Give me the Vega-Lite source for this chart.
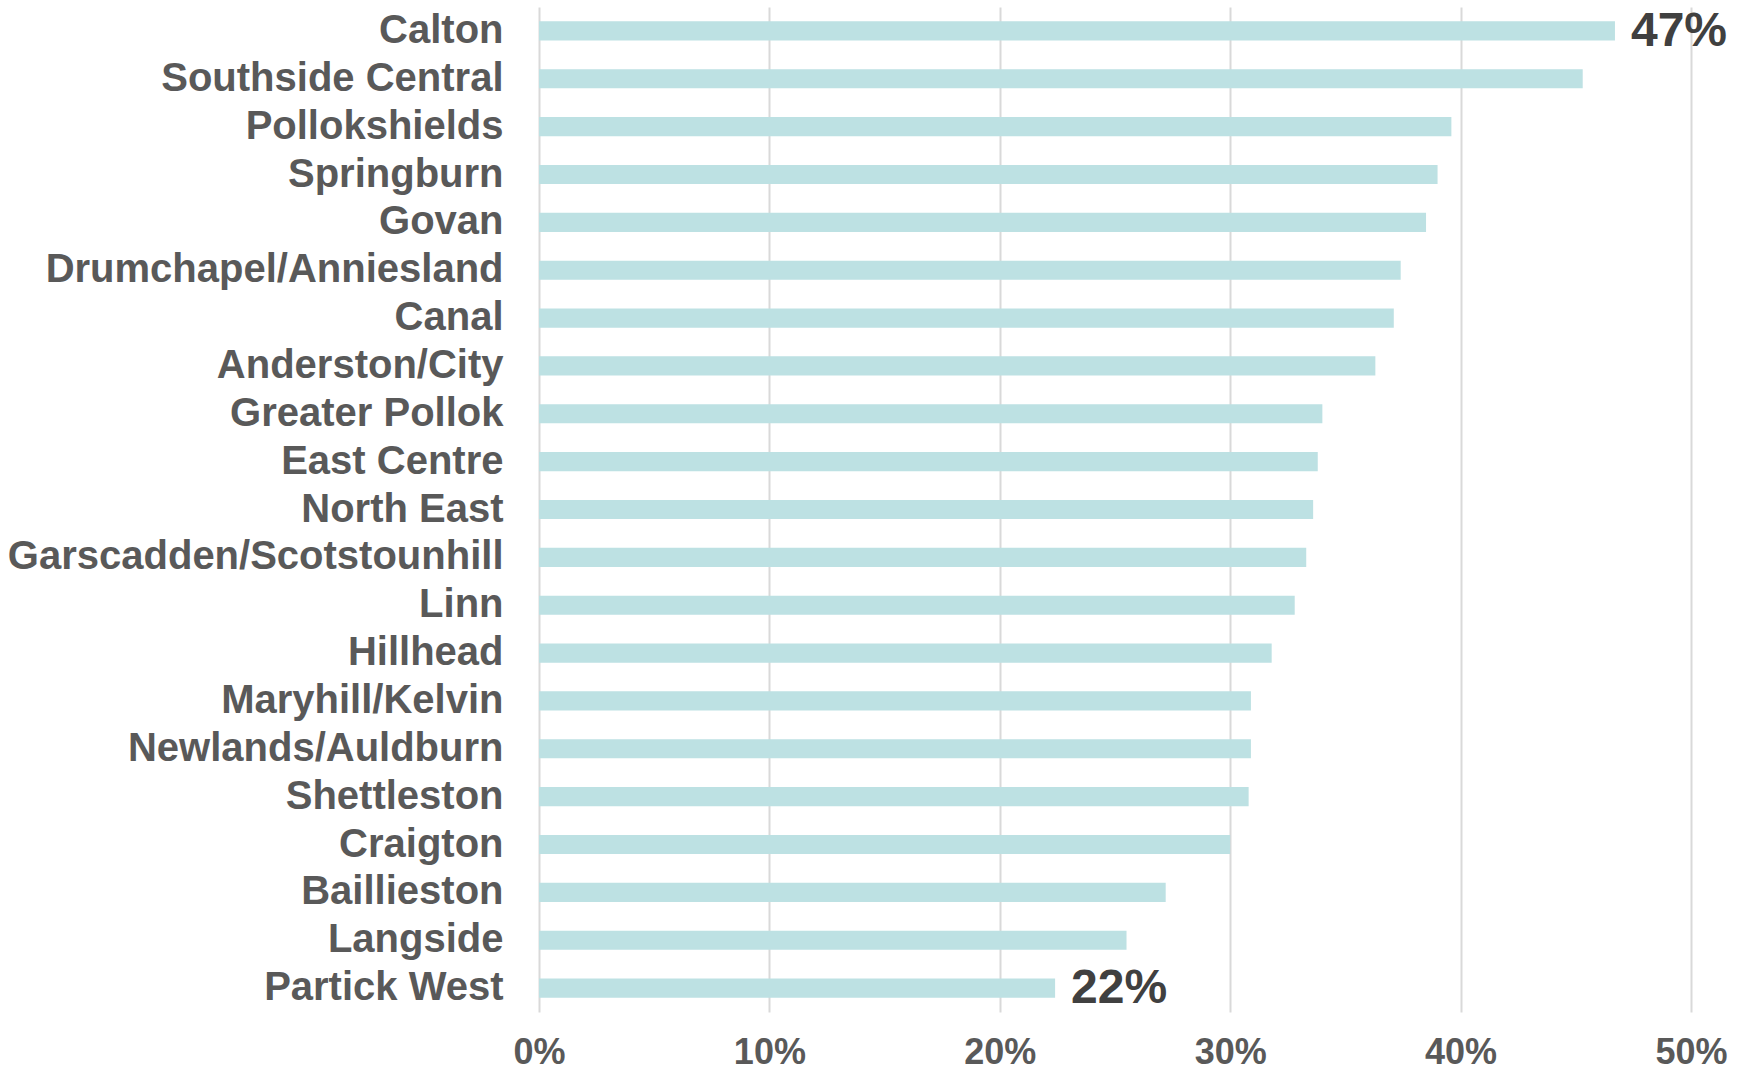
{
  "$schema": "https://vega.github.io/schema/vega-lite/v6.json",
  "width": 1152,
  "height": 1005,
  "autosize": {"type": "none"},
  "padding": {"left": 539, "top": 7, "right": 58, "bottom": 61},
  "background": "#ffffff",
  "config": {
    "view": {"stroke": null},
    "font": "Liberation Sans"
  },
  "data": {
    "values": [
      {"district": "Calton", "value": 0.467},
      {"district": "Southside Central", "value": 0.453},
      {"district": "Pollokshields", "value": 0.396},
      {"district": "Springburn", "value": 0.390},
      {"district": "Govan", "value": 0.385},
      {"district": "Drumchapel/Anniesland", "value": 0.374},
      {"district": "Canal", "value": 0.371},
      {"district": "Anderston/City", "value": 0.363},
      {"district": "Greater Pollok", "value": 0.340},
      {"district": "East Centre", "value": 0.338},
      {"district": "North East", "value": 0.336},
      {"district": "Garscadden/Scotstounhill", "value": 0.333},
      {"district": "Linn", "value": 0.328},
      {"district": "Hillhead", "value": 0.318},
      {"district": "Maryhill/Kelvin", "value": 0.309},
      {"district": "Newlands/Auldburn", "value": 0.309},
      {"district": "Shettleston", "value": 0.308},
      {"district": "Craigton", "value": 0.300},
      {"district": "Baillieston", "value": 0.272},
      {"district": "Langside", "value": 0.255},
      {"district": "Partick West", "value": 0.224}
    ]
  },
  "encoding": {
    "y": {
      "field": "district",
      "type": "nominal",
      "sort": null,
      "scale": {"paddingInner": 0.6, "paddingOuter": 0.3},
      "axis": {
        "title": null,
        "domain": false,
        "ticks": false,
        "labelFontSize": 40,
        "labelFontWeight": "bold",
        "labelColor": "#595959",
        "labelPadding": 36,
        "labelFont": "Liberation Sans",
        "labelLimit": 0
      }
    },
    "x": {
      "field": "value",
      "type": "quantitative",
      "scale": {"domain": [0, 0.5], "nice": false},
      "axis": {
        "title": null,
        "values": [0, 0.1, 0.2, 0.3, 0.4, 0.5],
        "format": ".0%",
        "domain": false,
        "ticks": false,
        "grid": true,
        "gridColor": "#d9d9d9",
        "gridWidth": 2,
        "labelFontSize": 36,
        "labelFontWeight": "bold",
        "labelColor": "#595959",
        "labelPadding": 23,
        "labelFont": "Liberation Sans",
        "labelFlush": false
      }
    }
  },
  "layer": [
    {
      "mark": {"type": "bar", "color": "#bde1e3"}
    },
    {
      "transform": [
        {"filter": "datum.district === 'Calton' || datum.district === 'Partick West'"}
      ],
      "mark": {
        "type": "text",
        "align": "left",
        "baseline": "middle",
        "dx": 16,
        "dy": 1,
        "fontSize": 48,
        "fontWeight": "bold",
        "color": "#404040",
        "font": "Liberation Sans"
      },
      "encoding": {
        "text": {"field": "value", "type": "quantitative", "format": ".0%"}
      }
    }
  ]
}
